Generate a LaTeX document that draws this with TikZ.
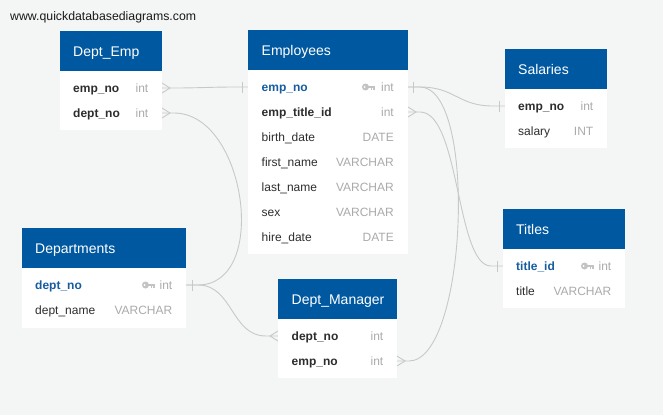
\documentclass[tikz,border=0pt]{standalone}
\usepackage{fontspec}
\setmainfont{Liberation Sans}
\usetikzlibrary{calc}
\definecolor{bgc}{RGB}{244,245,245}
\definecolor{hdrblue}{RGB}{0,89,160}
\definecolor{pkblue}{RGB}{22,92,160}
\definecolor{txtc}{RGB}{45,45,45}
\definecolor{typegray}{RGB}{170,170,170}
\definecolor{connc}{RGB}{200,200,200}
\definecolor{keyc}{RGB}{195,195,195}
\newcommand\crowR[1]{\draw[rel] ($(#1)+(0,-5)$) -- ($(#1)+(8,0)$) -- ($(#1)+(0,5)$);}
\newcommand\crowL[1]{\draw[rel] ($(#1)+(0,-5)$) -- ($(#1)+(-8,0)$) -- ($(#1)+(0,5)$);}
\newcommand\barAt[2]{\draw[rel] ($(#1)+(#2,-5.5)$) -- ($(#1)+(#2,5.5)$);}
\begin{document}
\begin{tikzpicture}[x=1pt,y=-1pt,
  hdr/.style={fill=hdrblue, draw=none, inner sep=0, anchor=north west, minimum height=40pt},
  bodyb/.style={fill=white, draw=none, inner sep=0, anchor=north west},
  htext/.style={anchor=base west, inner sep=0, text=white, font=\fontsize{14}{16}\selectfont},
  fld/.style={anchor=base west, inner sep=0, text=txtc, font=\fontsize{12}{14}\selectfont},
  fldb/.style={anchor=base west, inner sep=0, text=txtc, font=\fontsize{12}{14}\selectfont\bfseries},
  fldpk/.style={anchor=base west, inner sep=0, text=pkblue, font=\fontsize{12}{14}\selectfont\bfseries},
  ftype/.style={anchor=base east, inner sep=0, text=typegray, font=\fontsize{12}{14}\selectfont},
  rel/.style={draw=connc, line width=0.9pt},
  keyicon/.pic={
    \fill[keyc] (3.5,0) circle[radius=3.5pt];
    \fill[white] (2.6,0) circle[radius=1.1pt];
    \fill[keyc] (6,-1.3) rectangle (12.5,1.1);
    \fill[keyc] (9,1) rectangle (10.4,3.2);
    \fill[keyc] (11.2,1) rectangle (12.5,2.6);
  }
]
\useasboundingbox (0,0) rectangle (663,415);
\fill[bgc] (0,0) rectangle (663,415);

\node[anchor=base west, inner sep=0, text=black!90, font=\fontsize{12.3}{14}\selectfont] (wm) at (10,20) {www.quickdatabasediagrams.com};

% connector end points
\coordinate (de-emp) at (162,88);
\coordinate (de-dept) at (162,113);
\coordinate (em-emp-l) at (248,87);
\coordinate (em-emp-r) at (408,87);
\coordinate (em-tid) at (408,112);
\coordinate (sa-emp) at (505,106);
\coordinate (ti-tid) at (503,266);
\coordinate (dp-dept) at (186,285);
\coordinate (dm-dept) at (278,336);
\coordinate (dm-emp) at (397,361);

% relationships
\draw[rel] (de-emp) -- ++(12,0) .. controls +(25,0) and +(-25,0) .. ($(em-emp-l)-(12,0)$) -- (em-emp-l);
\draw[rel] (de-dept) -- ++(12,0) .. controls +(72,0) and +(72,0) .. ($(dp-dept)+(12,0)$) -- (dp-dept);
\draw[rel] (dp-dept) -- ++(12,0) .. controls +(35,0) and +(-35,0) .. ($(dm-dept)-(12,0)$) -- (dm-dept);
\draw[rel] (em-emp-r) -- ++(12,0) .. controls +(35,0) and +(-35,0) .. ($(sa-emp)-(12,0)$) -- (sa-emp);
\draw[rel] (em-emp-r) -- ++(12,0) .. controls +(58,0) and +(58,0) .. ($(dm-emp)+(12,0)$) -- (dm-emp);
\draw[rel] (em-tid) -- ++(12,0) .. controls +(40,0) and +(-35,0) .. ($(ti-tid)-(12,0)$) -- (ti-tid);

% end markers
\crowR{de-emp}
\crowR{de-dept}
\crowR{em-tid}
\crowR{dm-emp}
\crowL{dm-dept}
\barAt{em-emp-l}{-6}
\barAt{em-emp-r}{5}
\barAt{sa-emp}{-6}
\barAt{ti-tid}{-6}
\barAt{dp-dept}{6}

% Dept_Emp
\node[bodyb, minimum width=102pt, minimum height=59pt] (de-body) at (60,71) {};
\node[hdr, minimum width=102pt] (de-hdr) at (60,31) {};
\node[htext] (de-title) at (73,56) {Dept\_Emp};
\node[fldb] (de-f1) at (73,92) {emp\_no};
\node[ftype] (de-t1) at (148.5,92) {int};
\node[fldb] (de-f2) at (73,117) {dept\_no};
\node[ftype] (de-t2) at (148.5,117) {int};

% Employees
\node[bodyb, minimum width=160pt, minimum height=184pt] (em-body) at (248,70) {};
\node[hdr, minimum width=160pt] (em-hdr) at (248,30) {};
\node[htext] (em-title) at (261.5,55) {Employees};
\node[fldpk] (em-f1) at (261.5,91) {emp\_no};
\node[ftype] (em-t1) at (394,91) {int};
\pic at (362,87) {keyicon};
\node[fldb] (em-f2) at (261.5,116) {emp\_title\_id};
\node[ftype] (em-t2) at (394,116) {int};
\node[fld] (em-f3) at (261.5,141) {birth\_date};
\node[ftype] (em-t3) at (394,141) {DATE};
\node[fld] (em-f4) at (261.5,166) {first\_name};
\node[ftype] (em-t4) at (394,166) {VARCHAR};
\node[fld] (em-f5) at (261.5,191) {last\_name};
\node[ftype] (em-t5) at (394,191) {VARCHAR};
\node[fld] (em-f6) at (261.5,216) {sex};
\node[ftype] (em-t6) at (394,216) {VARCHAR};
\node[fld] (em-f7) at (261.5,241) {hire\_date};
\node[ftype] (em-t7) at (394,241) {DATE};

% Salaries
\node[bodyb, minimum width=102pt, minimum height=59pt] (sa-body) at (505,89) {};
\node[hdr, minimum width=102pt] (sa-hdr) at (505,49) {};
\node[htext] (sa-title) at (518,74) {Salaries};
\node[fldb] (sa-f1) at (518,110) {emp\_no};
\node[ftype] (sa-t1) at (593.5,110) {int};
\node[fld] (sa-f2) at (518,135) {salary};
\node[ftype] (sa-t2) at (593.5,135) {INT};

% Titles
\node[bodyb, minimum width=122pt, minimum height=59pt] (ti-body) at (503,249) {};
\node[hdr, minimum width=122pt] (ti-hdr) at (503,209) {};
\node[htext] (ti-title) at (516,234) {Titles};
\node[fldpk] (ti-f1) at (516,270) {title\_id};
\node[ftype] (ti-t1) at (611.5,270) {int};
\pic at (581,266) {keyicon};
\node[fld] (ti-f2) at (516,295) {title};
\node[ftype] (ti-t2) at (611.5,295) {VARCHAR};

% Departments
\node[bodyb, minimum width=164pt, minimum height=60pt] (dp-body) at (22,268) {};
\node[hdr, minimum width=164pt] (dp-hdr) at (22,228) {};
\node[htext] (dp-title) at (35,253) {Departments};
\node[fldpk] (dp-f1) at (35,289) {dept\_no};
\node[ftype] (dp-t1) at (172.5,289) {int};
\pic at (142,285) {keyicon};
\node[fld] (dp-f2) at (35,314) {dept\_name};
\node[ftype] (dp-t2) at (172.5,314) {VARCHAR};

% Dept_Manager
\node[bodyb, minimum width=119pt, minimum height=59pt] (dm-body) at (278,319) {};
\node[hdr, minimum width=119pt] (dm-hdr) at (278,279) {};
\node[htext] (dm-title) at (291.5,304) {Dept\_Manager};
\node[fldb] (dm-f1) at (291.5,340) {dept\_no};
\node[ftype] (dm-t1) at (383.5,340) {int};
\node[fldb] (dm-f2) at (291.5,365) {emp\_no};
\node[ftype] (dm-t2) at (383.5,365) {int};
\end{tikzpicture}
\end{document}
